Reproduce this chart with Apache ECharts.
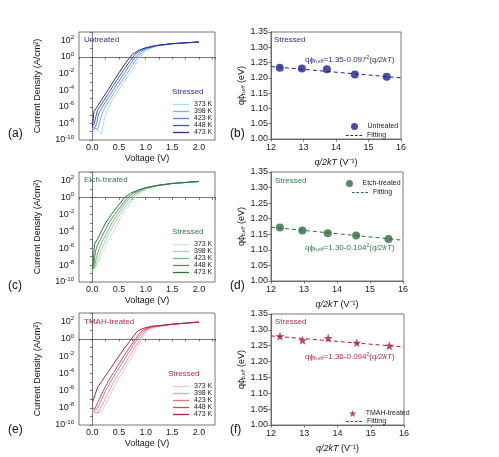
<!DOCTYPE html>
<html>
<head>
<meta charset="utf-8">
<script src="https://cdn.jsdelivr.net/npm/echarts@6/dist/echarts.min.js"></script>
<style>
  html, body { margin: 0; padding: 0; background: #fff; }
  #chart { width: 499px; height: 457px; }
</style>
</head>
<body>
<div id="chart"></div>
<script>
// stress temperatures, lightest curve first
const temps = ['373 K', '398 K', '423 K', '448 K', '473 K']
// q/2kT for each measuring temperature (V^-1), 473 K first
const qOver2kT = [12.27, 12.95, 13.72, 14.58, 15.56]

// J-V curves: [voltage (V), log10 current density (A/cm2)], order as temps
const untreatedIV = [
  [[0, -9.1], [0.05, -8.8], [0.1, -8.8], [0.17, -9.3], [0.2, -8.3], [0.23, -7.3], [0.3, -6.1], [0.4, -4.9], [0.5, -3.9], [0.6, -2.95], [0.7, -2.0], [0.8, -1.0], [0.9, 0.0], [1.0, 0.75], [1.2, 1.3], [1.5, 1.57], [2.0, 1.8]],
  [[0, -8.9], [0.05, -8.6], [0.1, -8.7], [0.14, -7.8], [0.18, -6.9], [0.2, -6.5], [0.3, -5.4], [0.4, -4.4], [0.5, -3.4], [0.6, -2.45], [0.7, -1.5], [0.8, -0.5], [0.9, 0.35], [1.0, 0.9], [1.2, 1.33], [1.5, 1.58], [2.0, 1.8]],
  [[0, -8.6], [0.05, -8.5], [0.08, -8.0], [0.12, -6.8], [0.2, -5.9], [0.3, -4.9], [0.4, -3.9], [0.5, -2.9], [0.6, -1.95], [0.7, -1.0], [0.8, -0.1], [0.9, 0.6], [1.0, 1.0], [1.2, 1.35], [1.5, 1.59], [2.0, 1.8]],
  [[0, -8.3], [0.04, -8.0], [0.07, -7.1], [0.1, -6.4], [0.2, -5.4], [0.3, -4.4], [0.4, -3.4], [0.5, -2.4], [0.6, -1.45], [0.7, -0.55], [0.8, 0.3], [0.9, 0.8], [1.0, 1.07], [1.2, 1.37], [1.5, 1.6], [2.0, 1.8]],
  [[0, -8.5], [0.02, -7.4], [0.03, -6.6], [0.1, -5.9], [0.2, -4.9], [0.3, -3.9], [0.4, -2.9], [0.5, -1.9], [0.6, -0.95], [0.65, -0.5], [0.75, 0.3], [0.87, 0.8], [1.0, 1.1], [1.2, 1.38], [1.5, 1.6], [2.0, 1.8]]
]
const etchIV = [
  [[0, -8.6], [0.05, -8.5], [0.1, -7.9], [0.2, -6.4], [0.3, -5.0], [0.4, -4.0], [0.48, -3.0], [0.57, -2.0], [0.68, -1.0], [0.78, -0.2], [0.87, 0.3], [0.95, 0.7], [1.05, 1.0], [1.2, 1.33], [1.5, 1.62], [2.0, 1.88]],
  [[0, -8.5], [0.05, -8.3], [0.1, -7.4], [0.16, -6.3], [0.25, -5.0], [0.34, -4.0], [0.42, -3.0], [0.52, -2.0], [0.63, -1.0], [0.74, -0.15], [0.83, 0.35], [0.93, 0.75], [1.0, 1.0], [1.2, 1.36], [1.5, 1.63], [2.0, 1.88]],
  [[0, -8.5], [0.04, -8.2], [0.08, -7.0], [0.12, -6.2], [0.2, -5.0], [0.29, -4.0], [0.37, -3.0], [0.47, -2.0], [0.58, -1.0], [0.7, -0.1], [0.8, 0.4], [0.9, 0.78], [1.0, 1.08], [1.2, 1.38], [1.5, 1.64], [2.0, 1.88]],
  [[0, -8.5], [0.03, -8.0], [0.06, -6.3], [0.1, -5.6], [0.23, -4.0], [0.31, -3.0], [0.42, -2.0], [0.54, -1.0], [0.66, -0.05], [0.76, 0.45], [0.88, 0.82], [1.0, 1.12], [1.2, 1.4], [1.5, 1.65], [2.0, 1.88]],
  [[0, -8.5], [0.02, -7.5], [0.04, -5.5], [0.1, -4.9], [0.17, -4.0], [0.25, -3.0], [0.36, -2.0], [0.48, -1.0], [0.61, 0.0], [0.72, 0.5], [0.85, 0.85], [1.0, 1.15], [1.2, 1.4], [1.5, 1.65], [2.0, 1.88]]
]
const tmahIV = [
  [[0, -8.5], [0.15, -8.6], [0.25, -7.6], [0.35, -6.3], [0.45, -5.1], [0.55, -4.1], [0.65, -3.0], [0.75, -2.0], [0.85, -0.9], [0.93, 0.0], [1.0, 0.75], [1.08, 1.15], [1.2, 1.4], [1.5, 1.67], [2.0, 1.95]],
  [[0, -8.4], [0.1, -8.6], [0.2, -7.5], [0.3, -6.2], [0.4, -5.0], [0.5, -4.0], [0.6, -3.0], [0.7, -2.0], [0.8, -0.95], [0.9, 0.0], [0.97, 0.7], [1.05, 1.15], [1.15, 1.35], [1.5, 1.68], [2.0, 1.95]],
  [[0, -8.3], [0.08, -8.2], [0.15, -7.4], [0.25, -6.0], [0.35, -4.9], [0.45, -3.9], [0.55, -2.9], [0.65, -1.9], [0.75, -0.9], [0.85, 0.0], [0.92, 0.6], [1.0, 1.05], [1.1, 1.35], [1.5, 1.7], [2.0, 1.95]],
  [[0, -8.0], [0.05, -8.1], [0.1, -7.4], [0.2, -6.1], [0.3, -4.9], [0.4, -3.9], [0.5, -2.9], [0.6, -1.9], [0.7, -1.0], [0.8, -0.1], [0.88, 0.6], [0.95, 1.0], [1.1, 1.4], [1.5, 1.7], [2.0, 1.95]],
  [[0, -7.4], [0.05, -6.5], [0.1, -5.6], [0.17, -5.0], [0.3, -3.8], [0.4, -2.9], [0.5, -2.0], [0.6, -1.1], [0.7, -0.3], [0.78, 0.4], [0.85, 0.9], [0.95, 1.2], [1.1, 1.45], [1.5, 1.7], [2.0, 1.95]]
]

// effective barrier height (eV) at qOver2kT
const phiUntreated = [1.233, 1.231, 1.228, 1.211, 1.204]
const phiEtch = [1.172, 1.162, 1.153, 1.146, 1.135]
const phiTmah = [1.280, 1.267, 1.274, 1.259, 1.250]
// dashed fitting lines, end points
const fitUntreated = [[12, 1.237], [16, 1.200]]
const fitEtch = [[12, 1.173], [16, 1.131]]
const fitTmah = [[12, 1.281], [16, 1.246]]

const blues = ['#a9dcf7', '#7cb2ec', '#5b86dc', '#3f55c6', '#2a2ba6']
const greens = ['#cde8cf', '#a8d2ad', '#7db686', '#4f955d', '#2a7040']
const reds = ['#f7c5cc', '#ef9fa8', '#e27683', '#cf4a5f', '#b3203d']

const FONT = 'Liberation Sans, Arial, sans-serif'
const STAR = 'path://M0,-10 L2.35,-3.24 L9.51,-3.09 L3.8,1.24 L5.88,8.09 L0,4 L-5.88,8.09 L-3.8,1.24 L-9.51,-3.09 L-2.35,-3.24 Z'
const DASH = 'path://M0,0h3v1h-3zM5,0h3v1h-3zM10,0h3v1h-3zM15,0h3v1h-3z'

const chart = echarts.init(document.getElementById('chart'))

// a, c, e on the left; b, d, f on the right
const grids = [
  { left: 79, top: 32, width: 136, height: 108 },
  { left: 271, top: 32, width: 130, height: 107 },
  { left: 79, top: 172, width: 136, height: 110 },
  { left: 271, top: 172, width: 132, height: 109 },
  { left: 79, top: 313, width: 136, height: 112 },
  { left: 271, top: 314, width: 133, height: 111 }
].map(g => ({ ...g, show: true, borderColor: '#555', borderWidth: 0.8, backgroundColor: 'transparent' }))

const line = { show: true, lineStyle: { color: '#555', width: 0.8 } }
const tick = { show: true, length: 2.5, lineStyle: { color: '#555', width: 0.8 } }
const supRich = { sup: { fontSize: 6, padding: [0, 0, 6, 0], fontFamily: FONT, color: '#222' } }

function ivX(i) {
  return {
    gridIndex: i, type: 'value', min: -0.25, max: 2.3, interval: 0.25,
    name: 'Voltage (V)', nameLocation: 'middle', nameGap: 14,
    nameTextStyle: { fontSize: 9, color: '#111', fontFamily: FONT },
    axisLine: line, axisTick: tick, splitLine: { show: false },
    axisLabel: {
      fontSize: 9, color: '#222', margin: 3, fontFamily: FONT,
      formatter: v => Math.abs(v * 2 - Math.round(v * 2)) < 1e-6 && v >= 0 ? v.toFixed(1) : ''
    }
  }
}
function ivY(i) {
  return {
    gridIndex: i, type: 'value', min: -10, max: 3, interval: 1,
    name: 'Current Density (A/cm²)', nameLocation: 'middle', nameGap: 37,
    nameTextStyle: { fontSize: 9, color: '#111', fontFamily: FONT },
    axisLine: line, axisTick: tick, splitLine: { show: false },
    axisLabel: {
      fontSize: 9, color: '#222', margin: 5, fontFamily: FONT, rich: supRich,
      formatter: v => (Math.round(v) % 2 === 0 && v <= 2) ? '10{sup|' + Math.round(v) + '}' : ''
    }
  }
}
function phiX(i) {
  return {
    gridIndex: i, type: 'value', min: 12, max: 16, interval: 1,
    name: '{i|q/2kT} (V⁻¹)', nameLocation: 'middle', nameGap: 19,
    nameTextStyle: { fontSize: 9, color: '#111', fontFamily: FONT, rich: { i: { fontStyle: 'italic', fontSize: 9, fontFamily: FONT, color: '#111' } } },
    axisLine: line, axisTick: tick, splitLine: { show: false },
    axisLabel: { fontSize: 9, color: '#222', margin: 4, fontFamily: FONT }
  }
}
function phiY(i) {
  return {
    gridIndex: i, type: 'value', min: 1.0, max: 1.35, interval: 0.05,
    name: 'qϕ{s|b,eff} (eV)', nameLocation: 'middle', nameGap: 23,
    nameTextStyle: { fontSize: 9, color: '#111', fontFamily: FONT, rich: { s: { fontSize: 5, padding: [5, 0, 0, 0], fontFamily: FONT, color: '#111' } } },
    axisLine: line, axisTick: tick, splitLine: { show: false },
    axisLabel: { fontSize: 9, color: '#222', margin: 3, fontFamily: FONT, formatter: v => v.toFixed(2) }
  }
}

const series = []
function ivSeries(curves, cols, grid, tag) {
  curves.forEach((pts, k) => {
    series.push({
      type: 'line', name: temps[k] + '#' + tag, xAxisIndex: grid, yAxisIndex: grid,
      data: pts, showSymbol: false, symbol: 'none', silent: true,
      lineStyle: { color: cols[k], width: 1 }, itemStyle: { color: cols[k] }
    })
  })
}
function phiSeries(name, vals, fit, col, symbol, grid, tag) {
  series.push({
    type: 'scatter', name: name, xAxisIndex: grid, yAxisIndex: grid,
    data: qOver2kT.map((x, k) => [x, vals[k]]),
    symbol: symbol, symbolSize: symbol === 'circle' ? 8 : 9, itemStyle: { color: col }
  })
  series.push({
    type: 'line', name: 'Fitting#' + tag, xAxisIndex: grid, yAxisIndex: grid,
    data: fit, showSymbol: false, symbol: 'none',
    lineStyle: { color: col, width: 1, type: [4, 3] }, itemStyle: { color: col }
  })
}
ivSeries(untreatedIV, blues, 0, 'a')
ivSeries(etchIV, greens, 2, 'c')
ivSeries(tmahIV, reds, 4, 'e')
phiSeries('Untreated', phiUntreated, fitUntreated, '#1f2290', 'circle', 1, 'b')
phiSeries('Etch-treated', phiEtch, fitEtch, '#2d6b3e', 'circle', 3, 'd')
phiSeries('TMAH-treated', phiTmah, fitTmah, '#b5173a', STAR, 5, 'f')

const legendBase = {
  orient: 'vertical', itemGap: 0, itemWidth: 16, itemHeight: 1.3, icon: 'rect',
  textStyle: { fontSize: 7, color: '#222', fontFamily: FONT },
  formatter: n => n.split('#')[0], selectedMode: false
}
const symLegend = { ...legendBase, itemHeight: 7, icon: undefined }
const dashLegend = { ...legendBase, itemHeight: 1.2, icon: DASH }
const legends = [
  { ...legendBase, left: 168, top: 96, data: temps.map(t => t + '#a') },
  { ...legendBase, left: 168, top: 236, data: temps.map(t => t + '#c') },
  { ...legendBase, left: 168, top: 378, data: temps.map(t => t + '#e') },
  { ...symLegend, left: 346, top: 118, data: ['Untreated'] },
  { ...dashLegend, left: 341, top: 127, data: ['Fitting#b'] },
  { ...symLegend, left: 341, top: 175, data: ['Etch-treated'] },
  { ...dashLegend, left: 347, top: 184, data: ['Fitting#d'] },
  { ...symLegend, left: 344, top: 405, data: ['TMAH-treated'] },
  { ...dashLegend, left: 341, top: 413, data: ['Fitting#f'] }
]
legends.forEach(l => { if (l.icon === undefined) delete l.icon })

function txt(x, y, text, color, size, rich) {
  return { type: 'text', left: x, top: y, silent: true,
    style: { text: text, fill: color, font: size + 'px ' + FONT, rich: rich } }
}
const eqRich = c => ({
  s: { fontSize: 5, padding: [4, 0, 0, 0], fill: c, fontFamily: FONT },
  p: { fontSize: 5, padding: [0, 0, 5, 0], fill: c, fontFamily: FONT },
  i: { fontStyle: 'italic', fontSize: 8, fill: c, fontFamily: FONT },
  n: { fontSize: 8, fill: c, fontFamily: FONT }
})
const eq = (a, b) => '{n|qϕ}{s|b,eff}{n|=' + a + '-' + b + '}{p|2}{n|(}{i|q/2kT}{n|)}'

const graphic = [
  txt(84, 36, 'Untreated', '#2b2c9e', 8),
  txt(172, 88, 'Stressed', '#2b2c9e', 8),
  txt(84, 176, 'Etch-treated', '#2f7a47', 8),
  txt(172, 228, 'Stressed', '#2f7a47', 8),
  txt(84, 318, 'TMAH-treated', '#c42a45', 8),
  txt(168, 370, 'Stressed', '#c42a45', 8),
  txt(274, 36, 'Stressed', '#2b2c9e', 8),
  txt(275, 177, 'Stressed', '#2f7a47', 8),
  txt(275, 318, 'Stressed', '#c42a45', 8),
  txt(305, 55, eq('1.35', '0.097'), '#2b2c9e', 8, eqRich('#2b2c9e')),
  txt(305, 243, eq('1.30', '0.104'), '#2f7a47', 8, eqRich('#2f7a47')),
  txt(305, 352, eq('1.36', '0.094'), '#c42a45', 8, eqRich('#c42a45')),
  txt(8, 128, '(a)', '#111', 12),
  txt(230, 128, '(b)', '#111', 12),
  txt(8, 280, '(c)', '#111', 12),
  txt(230, 280, '(d)', '#111', 12),
  txt(8, 424, '(e)', '#111', 12),
  txt(230, 424, '(f)', '#111', 12)
]

chart.setOption({
  animation: false,
  textStyle: { fontFamily: FONT },
  grid: grids,
  xAxis: [ivX(0), phiX(1), ivX(2), phiX(3), ivX(4), phiX(5)],
  yAxis: [ivY(0), phiY(1), ivY(2), phiY(3), ivY(4), phiY(5)],
  legend: legends,
  series: series,
  graphic: graphic
})
</script>
</body>
</html>
